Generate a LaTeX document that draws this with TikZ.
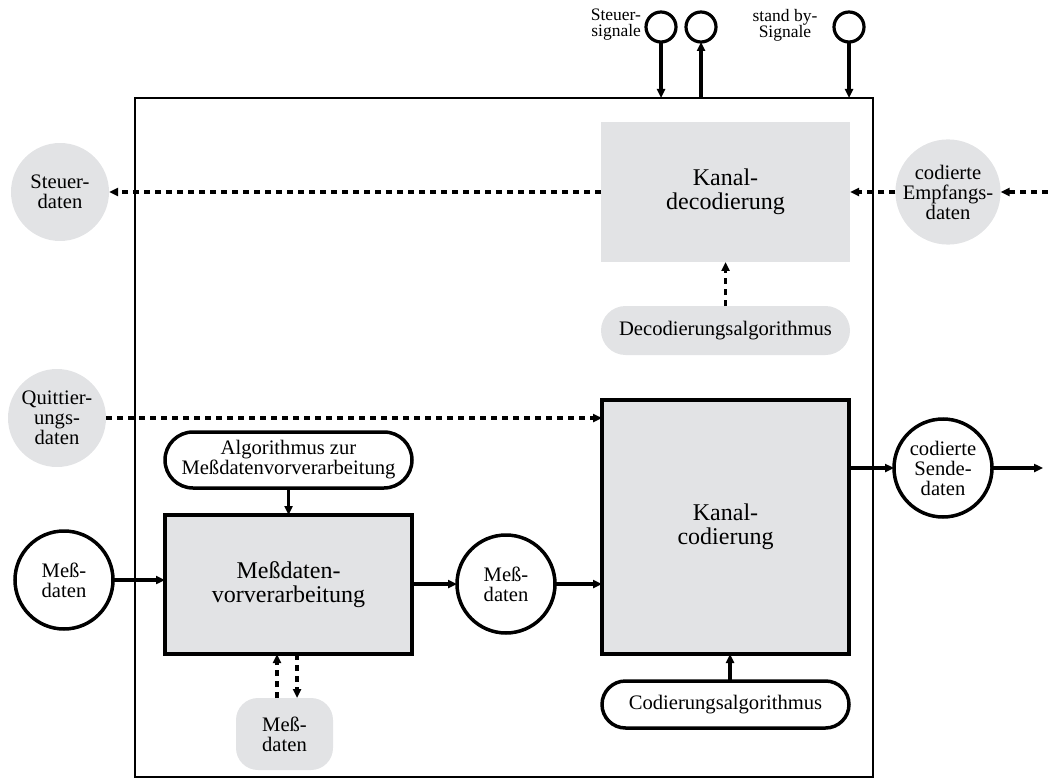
\documentclass[tikz,border=0pt]{standalone}
\usepackage{fontspec}
\setmainfont{Liberation Serif}
\usetikzlibrary{arrows.meta,shapes.misc}
\definecolor{boxgray}{RGB}{226,227,229}
\begin{document}
\begin{tikzpicture}[x=1pt,y=-1pt,
  every node/.style={inner sep=0pt, outer sep=0pt, align=center},
  smalltxt/.style={font=\fontsize{20.6}{20}\selectfont},
  bigtxt/.style={font=\fontsize{24}{24}\selectfont},
  toptxt/.style={font=\fontsize{17.5}{16}\selectfont},
  proc/.style={draw, line width=3.5pt, fill=boxgray, bigtxt},
  shadebox/.style={fill=boxgray, bigtxt},
  pill/.style={rounded rectangle, draw, line width=3.5pt, fill=white, smalltxt},
  graypill/.style={rounded rectangle, fill=boxgray, smalltxt},
  datacirc/.style={circle, draw, line width=3.5pt, fill=white, minimum size=98pt, smalltxt},
  graycirc/.style={circle, fill=boxgray, minimum size=98pt, smalltxt},
  port/.style={circle, draw, line width=3.2pt, minimum size=30pt},
  arr/.style={line width=3.5pt, -{Triangle[length=9pt,width=8pt]}},
  dotarr/.style={line width=3.5pt, dash pattern=on 6pt off 5pt, -{Triangle[length=9pt,width=8pt]}}
]
\useasboundingbox (0,0) rectangle (1048,783);

% system boundary
\node[draw, line width=1.8pt, minimum width=738pt, minimum height=679pt] (frame) at (504,437.5) {};

% control ports on top
\node[port] (pin1) at (661,27) {};
\node[port] (pout) at (701,27) {};
\node[port] (pin2) at (849,27) {};
\node[toptxt, anchor=east, align=right] (lblsteuer) at (641,25) {Steuer-\\signale};
\node[toptxt] (lblstandby) at (785,25) {stand by-\\Signale};

% decoding path
\node[shadebox, minimum width=249pt, minimum height=140pt] (dec) at (725.5,192) {Kanal-\\decodierung};
\node[graypill, minimum width=249pt, minimum height=49pt] (decalg) at (725.5,330.5) {Decodierungsalgorithmus};
\node[graycirc] (steuer) at (60,192) {Steuer-\\daten};
\node[graycirc] (empf) at (948,192) {codierte\\Empfangs-\\daten};
\coordinate (empfin) at (1048,192);

% measurement preprocessing
\node[graycirc] (quitt) at (57,418) {Quittier-\\ungs-\\daten};
\node[pill, minimum width=247pt, minimum height=56pt] (prealg) at (288.5,460) {Algorithmus zur\\Meßdatenvorverarbeitung};
\node[proc, minimum width=247pt, minimum height=139pt] (pre) at (288.5,584.5) {Meßdaten-\\vorverarbeitung};
\node[datacirc] (messin) at (64,580) {Meß-\\daten};
\node[datacirc] (messmid) at (506,584) {Meß-\\daten};
\node[fill=boxgray, rounded corners=22pt, minimum width=97pt, minimum height=72pt, smalltxt] (messstore) at (284.5,734) {Meß-\\daten};

% channel coding
\node[proc, minimum width=247pt, minimum height=254pt] (cod) at (725.5,527) {Kanal-\\codierung};
\node[pill, minimum width=247pt, minimum height=47pt] (codalg) at (725.5,704.5) {Codierungsalgorithmus};
\node[datacirc] (send) at (943,468) {codierte\\Sende-\\daten};
\coordinate (sendout) at (1043,468);

% port connectors
\draw[arr] (pin1.south) -- (pin1.south |- frame.north);
\draw[arr] (pout.south |- frame.north) -- (pout.south);
\draw[arr] (pin2.south) -- (pin2.south |- frame.north);

% data flow (solid)
\draw[arr] (prealg.south) -- (pre.north);
\draw[arr] (messin.east) -- (pre.west |- messin.east);
\draw[arr] (pre.east |- messmid.west) -- (messmid.west);
\draw[arr] (messmid.east) -- (cod.west |- messmid.east);
\draw[arr] ([xshift=4.5pt]codalg.north) -- ([xshift=4.5pt]cod.south);
\draw[arr] (cod.east |- send.west) -- (send.west);
\draw[arr] (send.east) -- (sendout);

% data flow (dotted)
\draw[dotarr] (dec.west) -- (steuer.east);
\draw[dotarr] (empfin) -- (empf.east);
\draw[dotarr] (empf.west) -- (dec.east);
\draw[dotarr] (decalg.north) -- (dec.south);
\draw[dotarr] (quitt.east) -- (cod.west |- quitt.east);
\draw[dotarr] ([xshift=-7.5pt]messstore.north) -- ([xshift=-7.5pt]messstore.north |- pre.south);
\draw[dotarr] ([xshift=12.5pt]messstore.north |- pre.south) -- ([xshift=12.5pt]messstore.north);
\end{tikzpicture}
\end{document}
